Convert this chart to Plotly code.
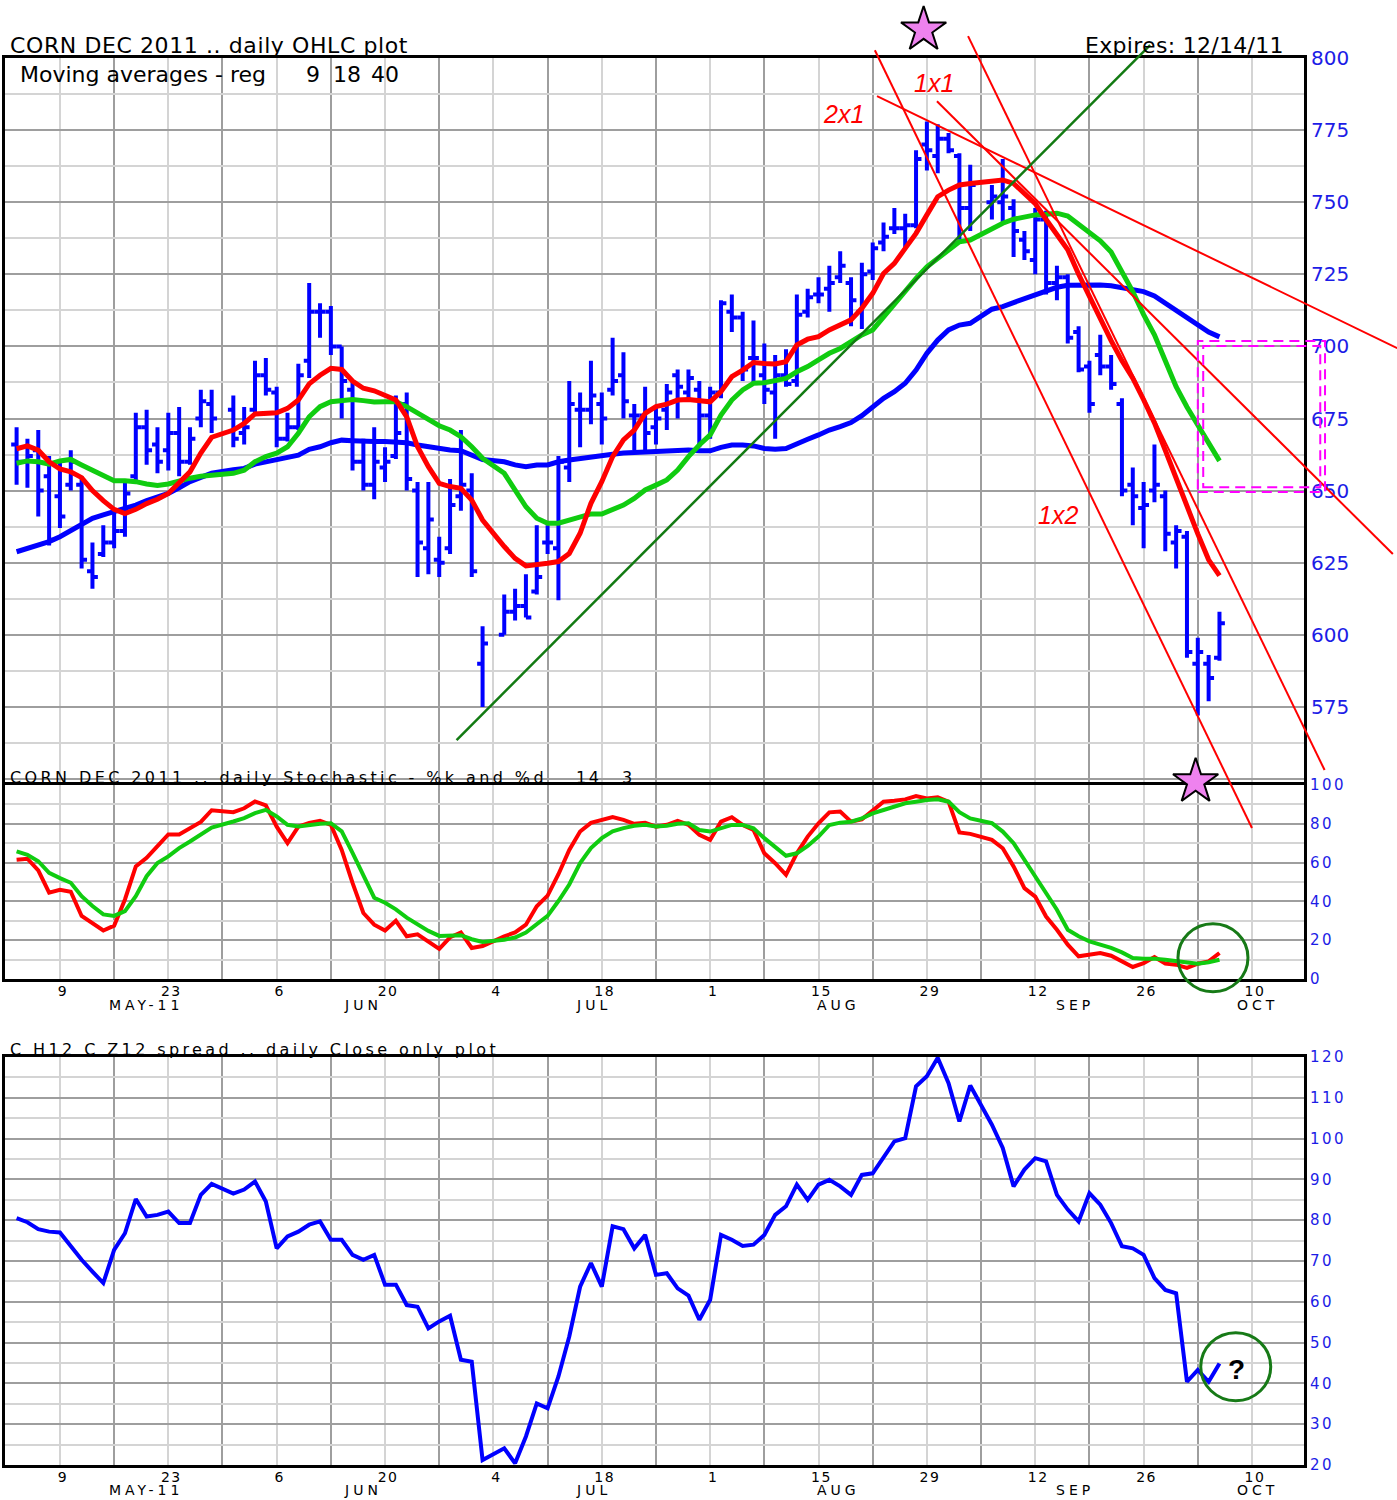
import plotly.graph_objects as go
import pandas as pd

# ---------------------------------------------------------------- data
HOLIDAYS = ["2011-05-30", "2011-07-04", "2011-09-05"]
dates = [d for d in pd.bdate_range("2011-05-03", "2011-10-05")
         if d.strftime("%Y-%m-%d") not in HOLIDAYS]

price_open = [666, 660, 664, 655, 648, 652, 652, 622, 628, 632, 636, 655, 672, 666, 664, 670, 660, 675, 680,
              678, 670, 678, 690, 684, 668, 672, 695, 712, 712, 700, 685, 660, 652, 658, 662, 680, 650, 630, 626, 630, 648, 650, 590,
              600, 608, 610, 615, 632, 630, 658, 678, 678, 680, 685, 690, 676, 676, 672, 678, 690, 684, 685, 676, 684, 712, 710, 696,
              690, 684, 690, 688, 712, 718, 720, 724, 722, 712, 726, 736, 741, 741, 742, 770, 766, 772, 766, 748,
              750, 750, 748, 737, 730, 744, 722, 724, 705, 693, 697, 693, 680, 652, 644, 650, 648, 632, 634, 590, 590, 592]
price_high = [672, 668, 671, 662, 660, 664, 655, 632, 638, 643, 653, 677, 678, 672, 677, 679, 672, 685, 685,
              683, 679, 695, 696, 686, 677, 694, 722, 715, 714, 700, 688, 668, 672, 665, 683, 684, 653, 653, 634, 654, 671, 656, 603,
              614, 616, 621, 638, 638, 662, 688, 684, 695, 684, 703, 698, 680, 686, 679, 687, 692, 692, 688, 686, 716, 718, 712, 709,
              701, 697, 699, 718, 720, 724, 728, 733, 724, 729, 736, 743, 748, 746, 768, 778, 777, 774, 767, 763,
              756, 765, 751, 740, 748, 747, 728, 725, 707, 695, 704, 697, 682, 658, 653, 666, 650, 638, 636, 599, 593, 608]
price_low = [652, 651, 641, 631, 637, 650, 623, 616, 627, 630, 634, 653, 659, 656, 657, 655, 659, 672, 670,
             665, 666, 677, 683, 665, 667, 671, 689, 703, 697, 675, 657, 650, 647, 653, 661, 650, 620, 621, 620, 628, 643, 620, 575,
             600, 605, 606, 614, 628, 612, 653, 665, 673, 666, 683, 675, 664, 664, 666, 671, 675, 681, 665, 668, 682, 705, 688, 687,
             680, 668, 686, 686, 710, 715, 712, 722, 707, 706, 723, 733, 739, 734, 741, 761, 760, 767, 737, 740,
             744, 743, 731, 730, 725, 718, 716, 701, 691, 677, 690, 685, 648, 638, 630, 646, 629, 623, 592, 572, 577, 591]
price_close = [660, 662, 650, 633, 641, 660, 626, 620, 632, 636, 649, 672, 664, 660, 670, 660, 668, 681, 675,
               668, 672, 690, 685, 668, 672, 690, 712, 712, 700, 688, 660, 652, 660, 660, 670, 654, 632, 640, 625, 645, 652, 622, 597,
               608, 610, 606, 620, 632, 660, 680, 678, 683, 675, 688, 681, 676, 670, 675, 684, 686, 689, 676, 684, 715, 710, 692, 696,
               685, 690, 687, 711, 717, 718, 722, 728, 716, 725, 734, 738, 741, 742, 765, 768, 772, 768, 748, 756,
               752, 752, 740, 733, 744, 722, 724, 703, 692, 680, 693, 687, 650, 648, 645, 652, 635, 636, 594, 594, 585, 604]

ma9 = [664.5, 665.5, 664, 660, 657.5, 656.5, 654.5, 650, 646.5, 643.5, 642, 643.5, 645.5, 647, 649, 652.5, 656.5, 663, 668.5,
       671, 673.3, 676.6, 677, 677, 678.5, 681.4, 687, 690, 692.4, 692, 688, 685.5, 684.6, 683.2, 681.4, 675.6, 665.2, 658.3, 652.5, 651.4, 650.8, 646.7, 639.8,
       630.6, 626.5, 623.9, 624.2, 624.8, 625.4, 628.2, 635.2, 645.6, 653.1, 661.8, 667.6, 671.0, 676.8, 679.1, 680.0, 681.4, 681.6, 681.2, 680.8, 684.3, 689.5, 691.8, 694.4,
       694.1, 693.9, 694.7, 700.5, 702.5, 703.4, 705.7, 707.4, 709.2, 713.2, 718.4, 725.3, 728.8, 734.0, 739.2, 745.6, 751.9, 754.2, 756.0, 756.5,
       757.3, 757.7, 756.5, 753, 749.5, 744, 738.5, 733.5, 725, 717, 710, 702, 695, 689, 681.5, 673.5, 664, 654, 645, 635, 626, 620.5]
ma18 = [659.5, 660.3, 660, 659.2, 660.3, 660.8, 658.9, 657.2, 655.4, 653.4, 653.4, 653.1, 652.3, 651.8, 652.3, 653.4, 654.3, 655, 655.4,
        656, 657.1, 660, 661.8, 663, 665.2, 669.9, 675.6, 679.1, 680.8, 681.4, 681.6, 681.2, 680.7, 680.8, 680.8, 679.1, 676.8, 674.7, 672.5, 671.0, 668.7, 665.2, 661.2,
        656.0, 650.2, 644.4, 640.4, 638.7, 638.7, 639.8, 641.0, 641.9, 641.9, 643.3, 645.0, 647.3, 650.2, 651.9, 653.7, 657.1, 661.8, 665.8, 669.3, 676.2, 681.4, 684.9, 687.2,
        687.4, 688.1, 688.9, 691.2, 693.0, 695.3, 697.6, 699.3, 701.6, 704, 705.7, 710.3, 714.9, 719.5, 723.6, 727.6, 730.5, 732.9, 736.3, 736.9,
        740.9, 742.7, 744.1, 745.0, 745.6, 745.8, 746.2, 745.2, 742.5, 739.3, 736.6, 732.7, 726, 719, 711, 704, 695, 686, 679, 673, 666.6, 660.3]
ma40 = [628.8, 630, 631.1, 632.3, 634, 636.1, 638.1, 640.4, 641.6, 642.7, 643.9, 645, 646.5, 647.7, 649, 651, 653.1, 654.6, 656,
        657.2, 657.7, 659.2, 660, 660.6, 661.2, 662.3, 664.3, 665.2, 666.6, 667.5, 667.3, 667, 667, 667, 667, 666.6, 665.8, 665.2, 664.4, 664.1, 663.8, 662.4, 660.8,
        660.0, 658.9, 658.3, 658.9, 658.9, 660.0, 660.6, 661.2, 661.8, 662.0, 662.6, 663.0, 663.2, 663.2, 663.5, 663.5, 663.8, 664.1, 663.8, 663.8, 665.0, 665.8, 665.8, 665.5,
        664.6, 664.3, 664.6, 666.4, 667.8, 669.3, 671.0, 672.2, 673.6, 676, 679.1, 682.0, 684.3, 687.2, 691.8, 697.6, 702.2, 705.7, 707.4, 708.0,
        712.9, 713.8, 715.2, 716.5, 717.8, 719.3, 720.5, 721.2, 721.3, 721.3, 721.3, 721.0, 720.4, 719.8, 719.0, 717.5, 715, 712, 709.5, 707, 705, 703.3]

stoch_k = [61.5, 62, 56, 44.5, 46, 45, 32.5, 29, 25, 27.5, 41, 58, 62.5, 68.5, 74.5, 74.5, 78, 81, 87,
           86, 88, 91.5, 89.5, 78.5, 70, 78.5, 80.5, 81.5, 79.5, 66.5, 49.5, 34, 28, 25, 30, 22, 23, 19.5, 15.5, 21.5, 24, 16, 17,
           22, 24, 28, 37.5, 43, 54, 66.5, 76, 80.5, 82, 83.5, 82, 80, 80.5, 78.5, 79.5, 81.5, 79.5, 74.3, 71.7, 81.1, 83.4, 79.4, 76.8,
           64.8, 59.7, 53.7, 64.8, 73.4, 80.3, 85.9, 86.3, 81.1, 82.3, 87.1, 91.4, 91.9, 92.6, 94.3, 93.1, 93.7, 91.4, 75.5, 74.8,
           71.7, 67.4, 58.0, 46.8, 42.5, 32.2, 25.4, 17.7, 11.7, 12.5, 13.4, 12.0, 9.1, 6.2, 8.2, 11.3, 7.9, 7.4, 5.7, 7.9, 9.1, 13.4]
stoch_d = [65.8, 64, 60.7, 54.7, 52, 49.6, 42.7, 37.6, 33.3, 32.5, 35, 42.7, 53, 59.8, 63.2, 67.5, 70.9, 74.4, 78.1,
           81.2, 82.9, 85.5, 87.2, 83.8, 79.5, 78.6, 79.5, 80, 80.3, 76.1, 65, 53, 41.9, 39.3, 35.9, 31.6, 28.2, 24.8, 22.2, 22.2, 22.6, 20.5, 19.1,
           20.2, 21.4, 23.9, 28.2, 32.5, 40.2, 48.7, 59.8, 67.5, 72.6, 76.1, 77.8, 79, 79.5, 78.6, 79, 80, 80.3, 76.8, 76.0, 77.7, 79.4, 79.4, 77.7,
           72.6, 68.3, 63.5, 64.8, 68.6, 73.4, 79.4, 80.6, 81.1, 82.8, 85.4, 87.1, 88.9, 90.6, 91.4, 92.3, 92.6, 91.4, 86, 82.8,
           80.3, 76.0, 70.0, 61.4, 53.7, 44.3, 35.7, 25.4, 22.0, 19.4, 17.7, 16.0, 13.7, 10.8, 10.5, 10.5, 9.9, 9.1, 8.2, 7.9, 8.6, 9.9]

spread = [80.5, 79.5, 77.8, 77.2, 77.0, 73.6, 70.3, 67.4, 64.6, 72.7, 76.8, 85.2, 80.9, 81.3, 82.1, 79.3, 79.3, 86.2, 88.9,
          86.5, 87.5, 89.5, 84.6, 73.1, 76.0, 77.2, 78.9, 79.7, 75.2, 75.2, 71.5, 70.3, 71.5, 64.2, 64.2, 59.2, 58.8, 53.5, 55.2, 56.6, 45.8, 45.3, 21.2,
          24.1, 20.4, 27.0, 35.1, 33.9, 41.7, 51.5, 63.7, 69.5, 63.7, 78.5, 77.8, 73.1, 76.4, 66.6, 67.0, 63.3, 61.5, 55.6, 60.5, 76.4, 75.2, 73.7, 74.0,
          76.4, 81.3, 83.4, 88.7, 85.0, 88.7, 89.9, 88.3, 86.2, 91.1, 91.5, 95.6, 99.3, 100.1, 112.8, 115.3, 119.8, 113.6, 104.2, 113,
          103.4, 97.7, 88.3, 92.4, 95.2, 94.4, 86.2, 82.6, 79.7, 86.6, 83.8, 79.3, 73.6, 73.1, 71.5, 65.8, 62.9, 62.1, 40.4, 43.3, 40.4, 44.9]

# tick labels
label_mondays = ["2011-05-09", "2011-05-23", "2011-06-06", "2011-06-20", "2011-07-04", "2011-07-18",
                 "2011-08-01", "2011-08-15", "2011-08-29", "2011-09-12", "2011-09-26", "2011-10-10"]
label_days = ["9", "23", "6", "20", "4", "18", "1", "15", "29", "12", "26", "10"]
plain_mondays = ["2011-05-02", "2011-05-16", "2011-05-30", "2011-06-13", "2011-06-27", "2011-07-11", "2011-07-25",
                 "2011-08-08", "2011-08-22", "2011-09-05", "2011-09-19", "2011-10-03", "2011-10-17"]
month_names = ["MAY-11", "JUN", "JUL", "AUG", "SEP", "OCT"]
month_slots = [12.9, 33.0, 54.2, 76.8, 98.7, 115.5]

price_ticks = [575, 600, 625, 650, 675, 700, 725, 750, 775, 800]
stoch_ticks = [0, 20, 40, 60, 80, 100]
spread_ticks = [20, 30, 40, 50, 60, 70, 80, 90, 100, 110, 120]

# ---------------------------------------------------------------- geometry / style
W, H = 1397, 1500
FONT = "DejaVu Sans"
BLUE_TXT = "#1c1ce6"
GRID_LIGHT = "#d4d4d4"
GRID_DARK = "#9e9e9e"
BASE = pd.Timestamp("2011-05-02")


def slot(d):
    d = pd.Timestamp(d)
    return (d - BASE).days // 7 * 5 + d.weekday()


x = [slot(d) for d in dates]

PX_L, PX_R = 5, 1304
X_RANGE = [-0.07, 119.8]
P1, P2, P3 = (58, 785), (785, 979), (1057, 1465)
Y1 = [547.92, 800]
Y2 = [0, 100]
Y3 = [20, 120]

x_dom = [PX_L / W, PX_R / W]


def y_dom(p):
    return [1 - p[1] / H, 1 - p[0] / H]


# full-figure overlay axes in the price panel's units
upp = (X_RANGE[1] - X_RANGE[0]) / (PX_R - PX_L)
X4 = [X_RANGE[0] - PX_L * upp, X_RANGE[1] + (W - PX_R) * upp]
ppp = (Y1[1] - Y1[0]) / (P1[1] - P1[0])
Y4 = [Y1[0] - (H - P1[1]) * ppp, Y1[1] + P1[0] * ppp]


def sp(t, ls):
    return f'<span style="letter-spacing:{ls}px">{t}</span>'


def paper_y(v, p, rng):
    d = y_dom(p)
    return d[0] + (v - rng[0]) / (rng[1] - rng[0]) * (d[1] - d[0])


major_x = [slot(d) for d in label_mondays]
minor_x = [slot(d) for d in plain_mondays]

fig = go.Figure()

# price panel
fig.add_trace(go.Ohlc(x=x, open=price_open, high=price_high, low=price_low, close=price_close,
                      increasing=dict(line=dict(color="#0000ff", width=4)),
                      decreasing=dict(line=dict(color="#0000ff", width=4)),
                      tickwidth=0.5, xaxis="x", yaxis="y", hoverinfo="skip"))
fig.add_trace(go.Scatter(x=x, y=ma40, mode="lines", line=dict(color="#0000ff", width=5), xaxis="x", yaxis="y"))
fig.add_trace(go.Scatter(x=x, y=ma18, mode="lines", line=dict(color="#10cc10", width=5), xaxis="x", yaxis="y"))
fig.add_trace(go.Scatter(x=x, y=ma9, mode="lines", line=dict(color="#ff0000", width=5), xaxis="x", yaxis="y"))

# stochastic
fig.add_trace(go.Scatter(x=x, y=stoch_k, mode="lines", line=dict(color="#ff0000", width=4), xaxis="x2", yaxis="y2"))
fig.add_trace(go.Scatter(x=x, y=stoch_d, mode="lines", line=dict(color="#10cc10", width=4), xaxis="x2", yaxis="y2"))

# spread
fig.add_trace(go.Scatter(x=x, y=spread, mode="lines", line=dict(color="#0000ff", width=4), xaxis="x3", yaxis="y3"))

# stars (drawn on the full-figure overlay axes, price units)
star_slots = [84.7, 109.8]
star_prices = [809.8, 549.1]
fig.add_trace(go.Scatter(x=star_slots, y=star_prices, mode="markers", xaxis="x4", yaxis="y4", cliponaxis=False,
                         marker=dict(symbol="star", size=34, color="#ee82ee", line=dict(color="black", width=2))))


# ---------------------------------------------------------------- axes
def xaxis(anchor, labels, mirror=True, side="bottom"):
    return dict(domain=x_dom, range=X_RANGE, anchor=anchor, side=side, showline=True, mirror=mirror,
                linecolor="black", linewidth=3, zeroline=False, ticks="", tickmode="array", tickvals=major_x,
                ticktext=[sp(t, 1.5) for t in label_days], showticklabels=labels, ticklabelstandoff=-3,
                ticklabelshift=3,
                tickfont=dict(family=FONT, size=14, color="black"), automargin=False,
                showgrid=True, gridcolor=GRID_LIGHT, gridwidth=2,
                minor=dict(tickmode="array", tickvals=minor_x, showgrid=True, gridcolor=GRID_DARK, gridwidth=2, ticks=""),
                fixedrange=True)


def yaxis(anchor, p, rng, ticks, minor, size, ls, extra_major=()):
    vals = list(extra_major) + list(ticks)
    texts = [""] * len(extra_major) + [sp(str(t), ls) for t in ticks]
    return dict(domain=y_dom(p), range=rng, anchor=anchor, side="right", showline=True, mirror=True,
                linecolor="black", linewidth=3, zeroline=False, ticks="", tickmode="array",
                tickvals=vals, ticktext=texts, tickfont=dict(family=FONT, size=size, color=BLUE_TXT),
                showgrid=True, gridcolor=GRID_DARK, gridwidth=2, automargin=False,
                minor=dict(tickmode="array", tickvals=minor, showgrid=True, gridcolor=GRID_LIGHT, gridwidth=2, ticks=""),
                fixedrange=True)


price_minor = [562.5 + 25 * i for i in range(10)]
stoch_minor = [10, 30, 50, 70, 90]
spread_minor = [25, 35, 45, 55, 65, 75, 85, 95, 105, 115]

layout = dict(
    width=W, height=H, margin=dict(l=0, r=0, t=0, b=0, pad=0), autosize=False,
    paper_bgcolor="white", plot_bgcolor="rgba(0,0,0,0)", showlegend=False,
    font=dict(family=FONT, color="black"),
    xaxis=dict(xaxis("y", False, mirror=False, side="top"), rangeslider=dict(visible=False)),
    xaxis2=xaxis("y2", True),
    xaxis3=xaxis("y3", True),
    yaxis=yaxis("x", P1, Y1, price_ticks, price_minor, 20, 0, extra_major=[550]),
    yaxis2=yaxis("x2", P2, Y2, stoch_ticks, stoch_minor, 15, 2.5),
    yaxis3=yaxis("x3", P3, Y3, spread_ticks, spread_minor, 15, 2.5),
    xaxis4=dict(domain=[0, 1], range=X4, anchor="y4", visible=False, fixedrange=True, automargin=False),
    yaxis4=dict(domain=[0, 1], range=Y4, anchor="x4", visible=False, fixedrange=True, automargin=False),
)
fig.update_layout(**layout)

# ---------------------------------------------------------------- trend lines & marks
RED = "#ff0000"
GREEN_LINE = "#127a12"
trend_lines = [
    ((80.4, 786.8), (128.4, 699.4), RED, 2),
    ((85.93, 785.0), (128.0, 628.0), RED, 2),
    ((80.2, 802.7), (115.0, 533.0), RED, 2),
    ((88.8, 807.6), (121.7, 553.1), RED, 2),
    ((41.6, 563.5), (105.6, 804.5), GREEN_LINE, 2.5),
]
for (a, b, c, w) in trend_lines:
    fig.add_shape(type="line", xref="x4", yref="y4", x0=a[0], y0=a[1], x1=b[0], y1=b[1],
                  line=dict(color=c, width=w))

# double dashed magenta box
for (xa, xb, ya, yb) in [(110.0, 121.74, 649.5, 701.9), (110.5, 121.3, 651.2, 700.1)]:
    fig.add_shape(type="rect", xref="x4", yref="y4", x0=xa, x1=xb, y0=ya, y1=yb,
                  line=dict(color="#ff00ff", width=2, dash="10px,6px"))

# green circles
for (sx, val, p, rng) in [(111.4, 11.0, P2, Y2), (113.5, 44.1, P3, Y3)]:
    fig.add_shape(type="circle", xref="x4", yref="paper", xsizemode="pixel", ysizemode="pixel",
                  xanchor=sx, yanchor=paper_y(val, p, rng), x0=-35, x1=35, y0=-34, y1=34,
                  line=dict(color="#177a17", width=3))

# ---------------------------------------------------------------- text
ann = []


def txt(xp, yp, text, size, color="black", xanchor="left", family=FONT, xref="paper", yref="paper"):
    ann.append(dict(x=xp, y=yp, xref=xref, yref=yref, text=text, showarrow=False, xanchor=xanchor,
                    yanchor="middle", font=dict(family=family, size=size, color=color)))


txt(8 / W, 1 - 46 / H, sp("CORN DEC 2011 .. daily OHLC plot", 0.6), 22)
txt(1286 / W, 1 - 46 / H, sp("Expires: 12/14/11", 0.3), 22, xanchor="right")
txt(18 / W, 1 - 74 / H, "Moving averages - reg", 22)
for t, cx in [("9", 313), ("18", 347), ("40", 385)]:
    txt(cx / W, 1 - 74 / H, t, 22, xanchor="center")
txt(8 / W, 1 - 777 / H, sp("CORN DEC 2011 .. daily Stochastic - %k and %d", 3.4), 16)
for t, cx in [("14", 588), ("3", 628)]:
    txt(cx / W, 1 - 777 / H, sp(t, 2.5), 16, xanchor="center")
txt(8 / W, 1 - 1049 / H, sp("C H12 C Z12 spread .. daily Close only plot", 3.4), 16)

for name, s in zip(month_names, month_slots):
    txt(s, 1 - 1005 / H, sp(name, 4), 14, xanchor="center", xref="x2")
    txt(s, 1 - 1490 / H, sp(name, 4), 14, xanchor="center", xref="x3")

# gann labels
for t, s, pr in [("2x1", 77.26, 780.6), ("1x1", 85.66, 791.3), ("1x2", 97.1, 641.5)]:
    txt(s, pr, f"<i>{t}</i>", 25, color=RED, xanchor="center", family="Liberation Sans", xref="x4", yref="y4")

txt(113.6, 43.5, "<b>?</b>", 28, xanchor="center", family="Liberation Sans", xref="x3", yref="y3")

fig.update_layout(annotations=ann)

fig.write_html("out.html", include_plotlyjs=True, full_html=True, config={"displayModeBar": False},
               post_script="document.body.style.margin='0';document.body.style.overflow='hidden';")
